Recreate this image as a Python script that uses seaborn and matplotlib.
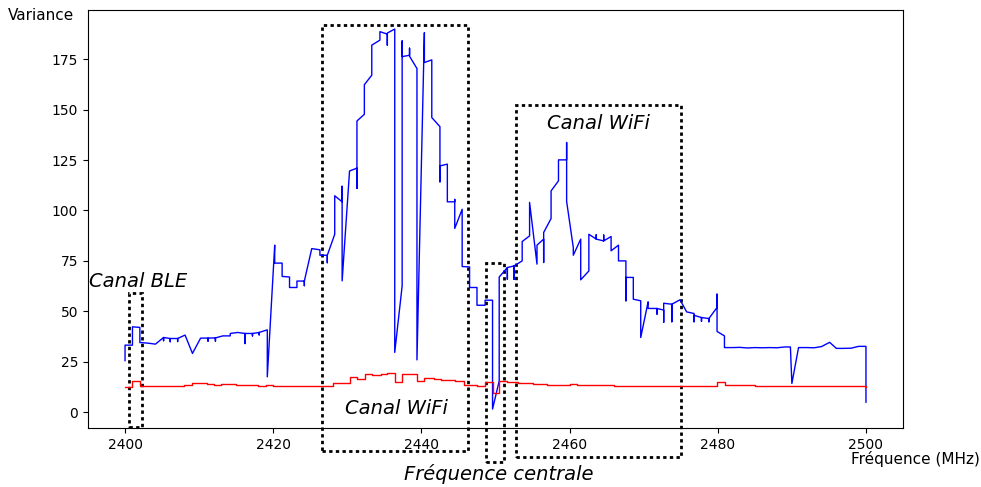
import matplotlib
matplotlib.use("Agg")
import matplotlib.pyplot as plt
import matplotlib.patches as mpatches
import pandas as pd
import seaborn as sns

sns.set_style("ticks", rc={"axes.edgecolor": "black", "text.color": "black",
                           "axes.labelcolor": "black", "xtick.color": "black",
                           "ytick.color": "black"})

# blue series: variance per measured frequency (several samples per channel)
blue_freq = [
    2400.0, 2400.0, 2401.0, 2401.0, 2402.0, 2402.0, 2403.1, 2404.1,
    2405.2, 2405.2, 2405.2, 2406.1, 2406.1, 2406.1, 2407.1, 2407.1, 2407.1,
    2408.1, 2409.1, 2410.2, 2411.2, 2411.2, 2411.2, 2412.2, 2412.2, 2412.2,
    2413.2, 2414.2, 2414.2, 2415.2, 2416.2, 2416.2, 2416.2, 2417.2, 2417.2, 2417.2,
    2418.1, 2418.1, 2418.1, 2419.2, 2419.2,
    2420.2, 2420.2, 2421.2, 2421.2, 2422.2, 2422.2, 2423.2, 2423.2,
    2424.2, 2424.2, 2424.2, 2425.2, 2426.3, 2426.3, 2427.3, 2427.3, 2427.3,
    2428.3, 2428.3, 2429.3, 2429.3, 2429.3, 2430.3, 2431.3, 2431.3, 2431.3,
    2432.3, 2432.3, 2433.3, 2433.3, 2434.4, 2434.4, 2435.4, 2435.4, 2435.4,
    2436.4, 2436.4, 2437.4, 2437.4, 2437.4, 2438.4, 2438.4, 2438.4,
    2439.4, 2439.4, 2440.4, 2440.4, 2441.4, 2441.4, 2442.5, 2442.5, 2442.5, 2442.5,
    2443.5, 2443.5, 2444.5, 2444.5, 2444.5, 2445.5, 2445.5, 2446.5, 2446.5,
    2447.5, 2447.5, 2448.6, 2448.6, 2449.6, 2449.6, 2450.5, 2450.5,
    2451.6, 2451.6, 2451.6, 2452.5, 2452.5, 2452.5, 2453.6, 2453.6,
    2454.6, 2454.6, 2455.6, 2455.6, 2456.5, 2456.5, 2456.5, 2457.5, 2457.5,
    2458.5, 2458.5, 2459.6, 2459.6, 2459.6, 2460.5, 2460.5, 2461.5, 2461.5,
    2462.6, 2462.6, 2463.6, 2463.6, 2463.6, 2464.6, 2464.6, 2464.6,
    2465.6, 2465.6, 2466.6, 2466.6, 2467.6, 2467.6, 2467.6, 2468.6, 2468.6,
    2469.6, 2469.6, 2470.6, 2470.6, 2471.8, 2471.8, 2471.8, 2472.7, 2472.7, 2472.7,
    2473.8, 2473.8, 2473.8, 2474.9, 2475.8, 2476.8, 2476.8, 2476.8,
    2477.8, 2477.8, 2477.8, 2478.8, 2478.8, 2478.8, 2479.9, 2479.9, 2479.9,
    2480.9, 2480.9, 2482.0, 2483.0, 2484.0, 2485.0, 2486.0, 2487.0, 2488.0,
    2489.0, 2489.8, 2490.0, 2490.9, 2492.0, 2493.0, 2494.0, 2495.1, 2496.0,
    2497.0, 2498.0, 2499.0, 2500.0, 2500.0,
]
blue_var = [
    25.4, 33.2, 33.2, 42.3, 42.0, 34.5, 34.2, 33.7,
    37.0, 35.4, 37.0, 36.5, 34.9, 36.5, 36.5, 35.0, 36.5,
    38.2, 29.1, 36.7, 36.7, 35.2, 36.7, 36.8, 35.2, 36.8,
    37.8, 37.8, 39.0, 39.5, 39.0, 34.0, 39.0, 39.0, 37.8, 39.0,
    39.5, 38.3, 39.5, 40.8, 17.5,
    82.8, 73.9, 73.9, 67.3, 67.0, 61.8, 61.8, 65.0,
    65.0, 62.7, 65.0, 81.1, 80.5, 77.8, 77.8, 74.1, 77.8,
    88.2, 107.3, 104.3, 112.0, 65.1, 119.6, 121.0, 111.0, 144.4,
    147.7, 162.4, 167.1, 182.0, 184.5, 188.7, 187.5, 182.0, 188.0,
    190.0, 29.6, 62.6, 184.1, 176.3, 177.0, 180.5, 176.5,
    170.4, 25.9, 188.2, 173.4, 174.7, 146.1, 141.6, 122.1, 114.2, 122.1,
    123.0, 104.3, 104.3, 105.5, 91.1, 100.6, 72.2, 72.0, 61.8,
    61.8, 53.0, 53.0, 55.5, 55.5, 1.5, 15.5, 67.0,
    71.7, 65.9, 71.7, 72.5, 65.9, 72.5, 75.0, 84.6,
    87.4, 104.0, 73.4, 82.8, 85.8, 74.2, 89.1, 96.0, 109.7,
    114.7, 125.1, 125.1, 133.7, 104.5, 81.6, 77.8, 85.8, 65.6,
    70.0, 88.2, 85.8, 88.0, 85.8, 84.9, 87.8, 84.9,
    87.1, 80.0, 82.8, 75.0, 75.0, 55.2, 66.8, 66.8, 56.0,
    55.2, 37.0, 54.7, 51.4, 51.4, 48.6, 51.4, 50.6, 44.5, 54.0,
    53.5, 44.8, 53.5, 55.7, 49.7, 48.9, 44.8, 48.0,
    46.9, 45.0, 46.9, 46.4, 44.8, 46.4, 51.9, 58.5, 40.0,
    37.8, 32.0, 32.0, 32.1, 31.8, 32.0, 31.9, 32.0, 31.9,
    32.3, 32.3, 14.2, 32.0, 32.0, 31.9, 32.5, 34.6, 31.6,
    31.6, 31.7, 32.6, 32.6, 4.8,
]

# red series (reference), drawn as steps
red_freq = [
    2400.0, 2401.0, 2402.0, 2404.0, 2406.0, 2408.0, 2409.0, 2410.0, 2411.0,
    2412.0, 2413.0, 2415.0, 2416.0, 2418.0, 2419.0, 2420.0, 2423.6, 2426.4,
    2428.1, 2430.4, 2431.3, 2432.4, 2433.3, 2434.5, 2435.4, 2436.5, 2437.4,
    2439.4, 2440.4, 2441.7, 2442.6, 2443.5, 2444.6, 2445.7, 2447.5, 2448.6,
    2449.6, 2450.5, 2451.6, 2453.0, 2455.0, 2457.0, 2459.0, 2460.0, 2461.0,
    2463.0, 2466.0, 2470.0, 2475.0, 2479.9, 2481.0, 2485.0, 2490.0, 2495.0,
    2500.0,
]
red_var = [
    12.5, 15.5, 13.0, 12.9, 13.0, 13.5, 14.2, 14.5, 14.0,
    13.6, 13.8, 13.5, 13.3, 13.0, 13.2, 13.0, 13.0, 12.9,
    14.4, 17.2, 16.4, 18.8, 18.2, 18.8, 19.2, 14.7, 18.8,
    15.5, 16.9, 16.4, 16.0, 15.8, 15.2, 13.5, 13.0, 14.7,
    9.3, 15.5, 15.0, 14.6, 14.0, 13.5, 13.3, 13.8, 13.5,
    13.3, 13.0, 12.9, 13.0, 14.7, 13.3, 13.1, 12.9, 12.8,
    12.6,
]

# annotation boxes: (x0, x1, y0, y1) in data units
boxes = [
    (2400.5, 2402.3, -7.4, 59.0),
    (2426.6, 2446.3, -19.3, 191.9),
    (2448.7, 2451.2, -24.8, 73.9),
    (2452.8, 2475.0, -22.3, 152.4),
]
notes = [
    ("Canal BLE", 2395.1, 65.0, "left"),
    ("Canal WiFi", 2436.6, 2.0, "center"),
    ("Canal WiFi", 2463.9, 143.3, "center"),
    ("Fréquence centrale", 2450.4, -30.7, "center"),
]

blue = pd.DataFrame({"freq": blue_freq, "var": blue_var})
red = pd.DataFrame({"freq": red_freq, "var": red_var})

fig = plt.figure(figsize=(9.81, 4.87), dpi=100)
ax = fig.add_axes([0.0897, 0.121, 0.8308, 0.8584])

sns.lineplot(data=blue, x="freq", y="var", ax=ax, color="blue", lw=1,
             sort=False, estimator=None)
sns.lineplot(data=red, x="freq", y="var", ax=ax, color="red", lw=1,
             sort=False, estimator=None, drawstyle="steps-post")

xlim = ax.get_xlim()
ylim = ax.get_ylim()

for x0, x1, y0, y1 in boxes:
    ax.add_patch(mpatches.Rectangle((x0, y0), x1 - x0, y1 - y0, fill=False,
                                    edgecolor="black", lw=2,
                                    linestyle=(0, (1.2, 1.2)), clip_on=False))

for txt, x, y, ha in notes:
    ax.text(x, y, txt, fontsize=14, style="italic", ha=ha, va="center")

ax.set_xlim(xlim)
ax.set_ylim(ylim)
ax.set_xticks(range(2400, 2501, 20))
ax.set_yticks(range(0, 176, 25))
ax.tick_params(labelsize=10)

ax.set_xlabel("Fréquence (MHz)", fontsize=11, va="center")
ax.xaxis.set_label_coords(1.015, -0.074)
ax.set_ylabel("Variance", fontsize=11, rotation=0, ha="center", va="center")
ax.yaxis.set_label_coords(-0.058, 0.988)

fig.savefig("out.png", dpi=100)
